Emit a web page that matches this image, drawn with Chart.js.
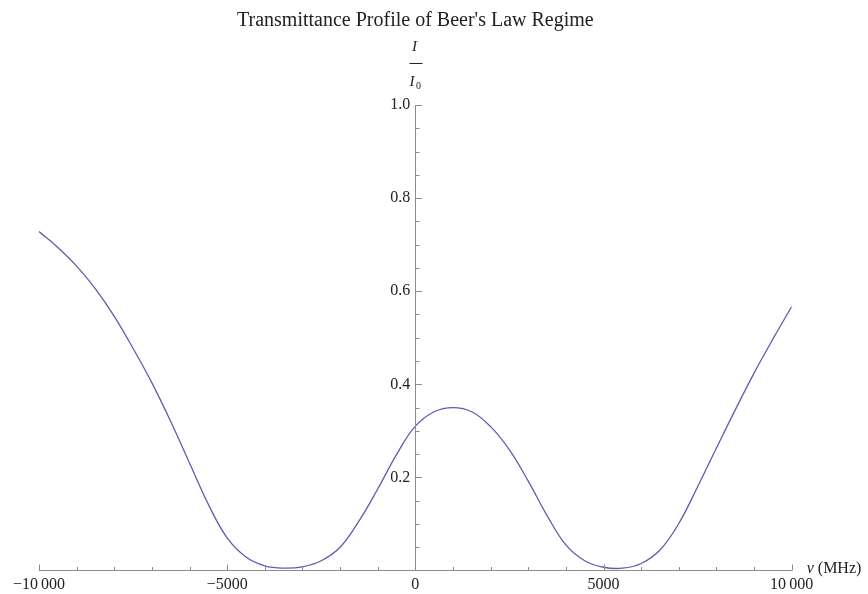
<!DOCTYPE html>
<html>
<head>
<meta charset="utf-8">
<script src="https://cdn.jsdelivr.net/npm/chart.js@4.4.1/dist/chart.umd.min.js"></script>
<style>
  html, body { margin: 0; padding: 0; background: #fff; }
  canvas { display: block; }
</style>
</head>
<body>
<canvas id="chart" width="868" height="594"></canvas>
<script>
// values
const frequencyMHz = [
  -10000, -9500, -9000, -8500, -8000, -7500, -7000, -6500, -6000, -5500,
  -5000, -4500, -4000, -3500, -3000, -2500, -2000, -1500, -1000, -500,
  0, 500, 1000, 1500, 2000, 2500, 3000, 3500, 4000, 4500,
  5000, 5500, 6000, 6500, 7000, 7500, 8000, 8500, 9000, 9500, 10000,
];
const transmittance = [
  0.728, 0.694, 0.654, 0.605, 0.546, 0.477, 0.403, 0.320, 0.231, 0.142,
  0.070, 0.029, 0.010, 0.005, 0.008, 0.021, 0.050, 0.106, 0.175, 0.249,
  0.310, 0.341, 0.350, 0.341, 0.309, 0.259, 0.192, 0.118, 0.055, 0.021,
  0.007, 0.005, 0.015, 0.044, 0.101, 0.180, 0.263, 0.345, 0.424, 0.497, 0.567,
];

const xMajorTicks = [-10000, -5000, 0, 5000, 10000];
const xMinorTicks = [-9000, -8000, -7000, -6000, -4000, -3000, -2000, -1000,
  1000, 2000, 3000, 4000, 6000, 7000, 8000, 9000];
const yMajorTicks = [0.2, 0.4, 0.6, 0.8, 1.0];
const yMinorTicks = [0.05, 0.1, 0.15, 0.25, 0.3, 0.35, 0.45, 0.5, 0.55,
  0.65, 0.7, 0.75, 0.85, 0.9, 0.95];

const SERIF = '"Liberation Serif", "DejaVu Serif", serif';
const AXIS_COLOR = '#8c8c8c';
const TEXT_COLOR = '#222';
// y labels sit a little left of the axis at x = 0
const Y_LABEL_ANCHOR = -135;

const formatFreq = (v) => {
  const sign = v < 0 ? '\u2212' : '';
  const abs = Math.abs(v);
  if (abs >= 10000) {
    return sign + String(abs).replace(/\B(?=(\d{3})+(?!\d))/g, '\u2009');
  }
  return sign + abs;
};

// Mathematica style: axis through x = 0, ticks pointing into the plot
const axesDecor = {
  id: 'axesDecor',
  afterDraw(chart) {
    const { ctx, scales: { x, y } } = chart;
    const x0 = Math.round(x.getPixelForValue(0)) + 0.5;
    const y0 = y.getPixelForValue(0);
    ctx.save();
    ctx.strokeStyle = AXIS_COLOR;
    ctx.lineWidth = 1;
    ctx.beginPath();
    ctx.moveTo(x0, y.getPixelForValue(1));
    ctx.lineTo(x0, y0);
    const tickX = (v, len) => {
      const px = Math.round(x.getPixelForValue(v)) + 0.5;
      ctx.moveTo(px, y0);
      ctx.lineTo(px, y0 - len);
    };
    const tickY = (v, len) => {
      const py = Math.round(y.getPixelForValue(v)) + 0.5;
      ctx.moveTo(x0, py);
      ctx.lineTo(x0 + len, py);
    };
    xMajorTicks.forEach((v) => tickX(v, 6));
    xMinorTicks.forEach((v) => tickX(v, 3.5));
    yMajorTicks.forEach((v) => tickY(v, 6.5));
    yMinorTicks.forEach((v) => tickY(v, 4));
    ctx.stroke();

    // y label: I / I0
    ctx.fillStyle = TEXT_COLOR;
    ctx.textBaseline = 'alphabetic';
    ctx.textAlign = 'center';
    ctx.font = `italic 15px ${SERIF}`;
    ctx.fillText('I', x0 - 1, 51);
    ctx.beginPath();
    ctx.moveTo(x0 - 6, 63.5);
    ctx.lineTo(x0 + 7, 63.5);
    ctx.strokeStyle = TEXT_COLOR;
    ctx.stroke();
    ctx.textAlign = 'left';
    ctx.fillText('I', x0 - 6, 86);
    ctx.font = `10px ${SERIF}`;
    ctx.fillText('0', x0 + 0.5, 88.5);

    // x label
    ctx.textAlign = 'left';
    const nu = 'ν';
    ctx.font = `italic 16px ${SERIF}`;
    ctx.fillText(nu, x.right + 15, 573);
    const nuW = ctx.measureText(nu).width;
    ctx.font = `16px ${SERIF}`;
    ctx.fillText(' (MHz)', x.right + 15 + nuW, 573);
    ctx.restore();
  },
};

const chart = new Chart(document.getElementById('chart'), {
  type: 'line',
  data: {
    datasets: [{
      data: frequencyMHz.map((f, i) => ({ x: f, y: transmittance[i] })),
      borderColor: '#5d5db0',
      borderWidth: 1.3,
      pointRadius: 0,
      tension: 0.4,
      fill: false,
    }],
  },
  options: {
    responsive: false,
    animation: false,
    layout: {
      padding: { left: 39, right: 76.3, top: 0, bottom: 0 },
    },
    plugins: {
      legend: { display: false },
      tooltip: { enabled: false },
      title: {
        display: true,
        text: "Transmittance Profile of Beer's Law Regime",
        color: TEXT_COLOR,
        font: { family: SERIF, size: 20, weight: 'normal' },
        padding: { top: 9, bottom: 72 },
      },
    },
    scales: {
      x: {
        type: 'linear',
        position: 'bottom',
        min: -10000,
        max: 10000,
        afterBuildTicks: (scale) => { scale.ticks = xMajorTicks.map((value) => ({ value })); },
        afterFit: (scale) => { scale.height = 23.5; },
        grid: { display: false, drawTicks: false },
        border: { display: true, color: AXIS_COLOR, width: 1 },
        ticks: {
          color: TEXT_COLOR,
          font: { family: SERIF, size: 16 },
          padding: 5,
          maxRotation: 0,
          autoSkip: false,
          callback: (v) => formatFreq(v),
        },
      },
      y: {
        type: 'linear',
        position: { x: Y_LABEL_ANCHOR },
        min: 0,
        max: 1,
        afterBuildTicks: (scale) => { scale.ticks = yMajorTicks.map((value) => ({ value })); },
        grid: { display: false, drawTicks: false },
        border: { display: false },
        ticks: {
          color: TEXT_COLOR,
          font: { family: SERIF, size: 16 },
          autoSkip: false,
          callback: (v) => v.toFixed(1),
        },
      },
    },
  },
  plugins: [axesDecor],
});
</script>
</body>
</html>
